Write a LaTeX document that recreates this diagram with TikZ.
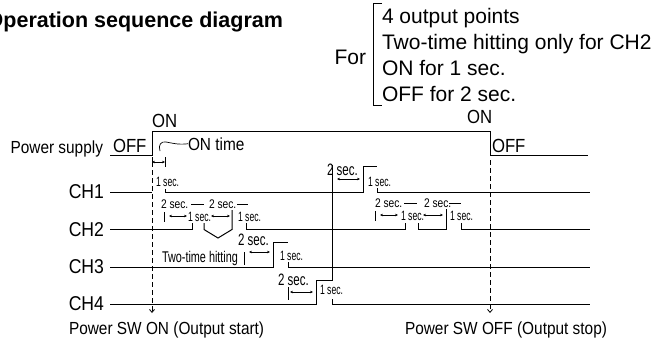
\documentclass[tikz,border=0pt]{standalone}
\usepackage{fontspec}
\setmainfont{Liberation Sans}
\newfontfamily\narrowfont{Liberation Sans}[FakeStretch=0.88]
\newfontfamily\midfont{Liberation Sans}[FakeStretch=0.82]
\newfontfamily\condfont{Liberation Sans}[FakeStretch=0.7]
\newfontfamily\tinyfont{Liberation Sans}[FakeStretch=0.64]
\usetikzlibrary{arrows.meta}

\begin{document}
\begin{tikzpicture}[
    x=1bp, y=-1bp,
    every node/.style={inner sep=0pt, outer sep=0pt},
    sig/.style={line width=1bp},
    thin bar/.style={line width=0.7bp},
    lbl/.style={font=\narrowfont\fontsize{17.5bp}{20bp}\selectfont, anchor=base west},
    lvl/.style={font=\narrowfont\fontsize{19bp}{22bp}\selectfont, anchor=base west},
    chlbl/.style={font=\narrowfont\fontsize{20bp}{22bp}\selectfont, anchor=east},
    note/.style={font=\fontsize{21bp}{24bp}\selectfont, anchor=base west},
    twosec/.style={font=\condfont\fontsize{16.5bp}{18bp}\selectfont, anchor=base west},
    twosecsm/.style={font=\midfont\fontsize{12.5bp}{14bp}\selectfont, anchor=base west},
    onesec/.style={font=\tinyfont\fontsize{13.5bp}{15bp}\selectfont, anchor=base west},
    dur/.style={line width=0.6bp, {Stealth[length=3bp,width=2.6bp]}-{Stealth[length=3bp,width=2.6bp]}},
    swline/.style={line width=0.8bp, dash pattern=on 5bp off 3bp, -{Straight Barb[length=3bp,width=5bp]}}
]
\useasboundingbox (0,0) rectangle (655,340);

% tytul i warunki
\node[anchor=base east, font=\bfseries\fontsize{21.5bp}{24bp}\selectfont] (title) at (283,27) {Operation sequence diagram};
\node[note, anchor=base east] (for) at (366,64) {For};
\draw[thin bar] (382,3) -- (373,3) -- (373,105) -- (382,105);
\node[note] (cond1) at (382,23) {4 output points};
\node[note] (cond2) at (382,49) {Two-time hitting only for CH2};
\node[note] (cond3) at (382,75.5) {ON for 1 sec.};
\node[note] (cond4) at (382,101) {OFF for 2 sec.};

% zasilanie
\node[lbl, anchor=base east] (power) at (103,153.5) {Power supply};
\draw[sig] (110,155) -- (152,155) -- (152,131) -- (490,131) -- (490,155) -- (588,155);
\node[lvl] (offL) at (113,152) {OFF};
\node[lvl] (onL) at (152,127) {ON};
\node[lvl] (onR) at (467,123) {ON};
\node[lvl] (offR) at (492,152) {OFF};
\node[lbl] (ontime) at (188,150) {ON time};
\draw[thin bar] (160,151) .. controls (158,145) and (161,141) .. (166,142) .. controls (172,143) and (178,145) .. (ontime.west);
\draw[thin bar] (152,157) -- (152,167) (165,157) -- (165,167);
\draw[dur] (152,162) -- (165,162);

% wlaczenie / wylaczenie
\coordinate (swOnTop) at (152,170);
\coordinate (swOnEnd) at (152,313);
\coordinate (swOffTop) at (490,160);
\coordinate (swOffEnd) at (490,313);
\draw[swline] (swOnTop) -- (swOnEnd);
\draw[swline] (swOffTop) -- (swOffEnd);
\node[lbl] (swOn) at (69,334) {Power SW ON (Output start)};
\node[lbl] (swOff) at (405,334) {Power SW OFF (Output stop)};

% kanaly
\node[chlbl] (ch1) at (104,192) {CH1};
\node[chlbl] (ch2) at (104,229.5) {CH2};
\node[chlbl] (ch3) at (104,267) {CH3};
\node[chlbl] (ch4) at (104,304) {CH4};

% CH1
\draw[sig] (110,192) -- (152,192);
\draw[sig] (165,189) -- (165,192) -- (363,192) -- (363,166) -- (377,166);
\draw[sig] (377,188) -- (377,192) -- (590,192);
\node[onesec] (ch1a) at (156,186) {1 sec.};
\node[onesec] (ch1b) at (368,186) {1 sec.};
\node[twosec] (ch1w) at (327,175) {2 sec.};
\draw[dur] (337,179) -- (360,179);

% CH2 <- dwa impulsy
\draw[sig] (110,229.5) -- (192,229.5) -- (192,223);
\draw[sig] (191,204) -- (204,204);
\draw[sig] (204,223) -- (204,229.5) -- (218,238) -- (232,229.5) -- (232,210);
\draw[sig] (237,204.5) -- (248,204.5);
\draw[sig] (246,223) -- (246,229.5) -- (405,229.5) -- (405,223);
\draw[sig] (404,203) -- (417,203);
\draw[sig] (418,223) -- (418,229.5) -- (446,229.5) -- (446,209);
\draw[sig] (449,203) -- (461,203);
\draw[sig] (461,223) -- (461,229.5) -- (590,229.5);
\node[twosecsm] (ch2w1) at (161,208) {2 sec.};
\node[twosecsm] (ch2w2) at (209,208) {2 sec.};
\node[onesec] (ch2a) at (188,221) {1 sec.};
\node[onesec] (ch2b) at (238,221) {1 sec.};
\draw[thin bar] (164,212) -- (164,222);
\draw[dur] (169,216) -- (187,216);
\draw[dur] (211,216) -- (230,216);
\node[twosecsm] (ch2w3) at (375,207) {2 sec.};
\node[twosecsm] (ch2w4) at (424,207) {2 sec.};
\node[onesec] (ch2c) at (401,220) {1 sec.};
\node[onesec] (ch2d) at (450,220) {1 sec.};
\draw[thin bar] (375,211) -- (375,221);
\draw[dur] (380,215) -- (398,215);
\draw[dur] (423,215) -- (443,215);

% CH3
\draw[sig] (110,267) -- (273,267) -- (273,242) -- (288,242);
\draw[sig] (288,262) -- (288,267) -- (590,267);
\node[onesec] (ch3a) at (280,260) {1 sec.};
\node[twosec] (ch3w) at (238,245) {2 sec.};
\node[font=\condfont\fontsize{15.5bp}{18bp}\selectfont, anchor=base west] (hit) at (162,262) {Two-time hitting};
\draw[thin bar] (244,252) -- (244,265);
\draw[dur] (249,252) -- (270,252);

% CH4
\draw[sig] (110,304) -- (316,304) -- (316,280) -- (332,280) -- (332,165);
\draw[sig] (332,299) -- (332,304) -- (590,304);
\node[onesec] (ch4a) at (320,294) {1 sec.};
\node[twosec] (ch4w) at (278,285) {2 sec.};
\draw[thin bar] (288,287) -- (288,300);
\draw[dur] (290,292) -- (313,292);
\end{tikzpicture}
\end{document}
